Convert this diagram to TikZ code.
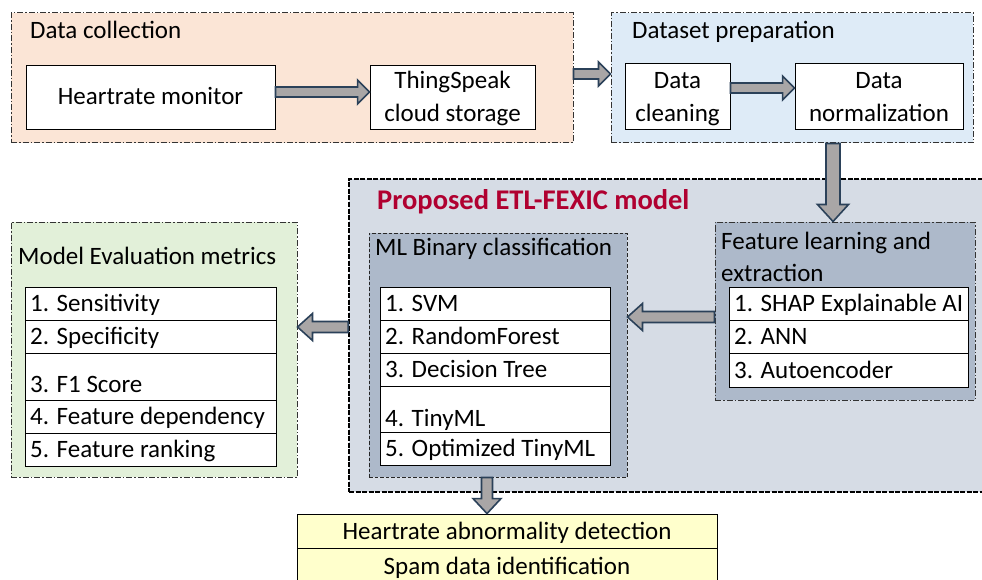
\documentclass[tikz,border=0pt]{standalone}
\usepackage{fontspec}
\setmainfont{Carlito}
\usetikzlibrary{calc,fit}
\definecolor{dcfill}{HTML}{FBE5D6}
\definecolor{dpfill}{HTML}{DEEBF7}
\definecolor{etlfill}{HTML}{D6DCE5}
\definecolor{innerfill}{HTML}{ADB9CA}
\definecolor{evalfill}{HTML}{E2F0D9}
\definecolor{outfill}{HTML}{FFFFCC}
\definecolor{arrowborder}{HTML}{2B4159}
\definecolor{arrowfill}{HTML}{A9A6A6}
\definecolor{titlered}{HTML}{B00030}
\def\bas{5}\def\bah{12}\def\bal{12}
\tikzset{
  arrowdims/.code args={#1/#2/#3}{\def\bas{#1}\def\bah{#2}\def\bal{#3}},
  blockarrow/.style={draw=arrowborder, fill=arrowfill, line width=1.6pt, line join=miter,
    to path={let \p1=(\tikztostart), \p2=(\tikztotarget),
      \n1={veclen(\x2-\x1,\y2-\y1)}, \n2={(\x2-\x1)/\n1}, \n3={(\y2-\y1)/\n1} in
      ({\x1-\bas*(\n3)*1pt},{\y1+\bas*(\n2)*1pt})
      -- ({\x2-\bal*(\n2)*1pt-\bas*(\n3)*1pt},{\y2-\bal*(\n3)*1pt+\bas*(\n2)*1pt})
      -- ({\x2-\bal*(\n2)*1pt-\bah*(\n3)*1pt},{\y2-\bal*(\n3)*1pt+\bah*(\n2)*1pt})
      -- (\p2)
      -- ({\x2-\bal*(\n2)*1pt+\bah*(\n3)*1pt},{\y2-\bal*(\n3)*1pt-\bah*(\n2)*1pt})
      -- ({\x2-\bal*(\n2)*1pt+\bas*(\n3)*1pt},{\y2-\bal*(\n3)*1pt-\bas*(\n2)*1pt})
      -- ({\x1+\bas*(\n3)*1pt},{\y1-\bas*(\n2)*1pt})
      -- cycle}},
  region/.style={draw=black!80, line width=1pt, inner sep=0pt,
    dash pattern=on 6pt off 2pt on 1.5pt off 2pt},
  etlregion/.style={draw=black, line width=1.6pt, inner sep=0pt, fill=etlfill,
    dash pattern=on 5pt off 1.5pt},
  mlregion/.style={draw=black!85, line width=1pt, inner sep=0pt, fill=innerfill,
    dash pattern=on 3.5pt off 2pt},
  whitebox/.style={draw=black, line width=0.9pt, fill=white, inner sep=0pt},
  yellowbox/.style={draw=black, line width=0.9pt, fill=outfill, inner sep=0pt},
  ltext/.style={anchor=west, inner sep=0pt, text height=16pt, text depth=0pt},
  ctext/.style={anchor=center, inner sep=0pt, text height=16pt, text depth=0pt},
}
\begin{document}
\begin{tikzpicture}[x=1pt,y=-1pt,font=\fontsize{25}{32}\selectfont]
\useasboundingbox (0,0) rectangle (982,580);
\clip (0,0) rectangle (982,580);
\fill[white] (0,0) rectangle (982,580);

% Data collection
\node[region, fill=dcfill, fit={(11,13)(573,143)}] (dc) {};
\node[ltext] (tdc) at (30,31) {Data collection};
\node[whitebox, fit={(26,65)(275,129)}] (hr) {};
\node[ctext] (thr) at (hr.center) {Heartrate monitor};
\node[whitebox, fit={(370,65)(535,129)}] (ts) {};
\node[ctext] (tts1) at (452.5,81) {ThingSpeak};
\node[ctext] (tts2) at (452.5,114) {cloud storage};

% Dataset preparation
\node[region, fill=dpfill, fit={(611,13)(973,143)}] (dp) {};
\node[ltext] (tdp) at (632,31) {Dataset preparation};
\node[whitebox, fit={(625,63)(730,129)}] (clean) {};
\node[ctext] (tcl1) at (677.5,81) {Data};
\node[ctext] (tcl2) at (677.5,114) {cleaning};
\node[whitebox, fit={(795,63)(963,129)}] (norm) {};
\node[ctext] (tno1) at (879,81) {Data};
\node[ctext] (tno2) at (879,114) {normalization};

% Proposed model
\node[etlregion, fit={(349,179)(1000,492)}] (etl) {};
\node[ltext, text height=18pt, text=titlered, font=\fontsize{28.5}{34}\selectfont\bfseries] (tetl) at (377,201) {Proposed ETL-FEXIC model};

\node[mlregion, fit={(369,233)(627,477)}] (ml) {};
\node[ltext] (tml) at (375,247) {ML Binary classification};
\node[whitebox, fit={(380,287)(610,320)}] (m1) {};
\node[whitebox, fit={(380,320)(610,353)}] (m2) {};
\node[whitebox, fit={(380,353)(610,386)}] (m3) {};
\node[whitebox, fit={(380,386)(610,432)}] (m4) {};
\node[whitebox, fit={(380,432)(610,465)}] (m5) {};
\node[ltext] (tm1) at (385,303.5) {1. SVM};
\node[ltext] (tm2) at (385,336.5) {2. RandomForest};
\node[ltext] (tm3) at (385,369.5) {3. Decision Tree};
\node[ltext] (tm4) at (385,418) {4. TinyML};
\node[ltext] (tm5) at (385,448.5) {5. Optimized TinyML};

\node[region, fill=innerfill, fit={(715,222)(975,400)}] (feat) {};
\node[ltext] (tf1) at (721,241) {Feature learning and};
\node[ltext] (tf2) at (721,273) {extraction};
\node[whitebox, fit={(729,287)(968,320)}] (f1) {};
\node[whitebox, fit={(729,320)(968,353)}] (f2) {};
\node[whitebox, fit={(729,353)(968,387)}] (f3) {};
\node[ltext] (tfa) at (734,303.5) {1. SHAP Explainable AI};
\node[ltext] (tfb) at (734,336.5) {2. ANN};
\node[ltext] (tfc) at (734,370) {3. Autoencoder};

% Evaluation
\node[region, fill=evalfill, fit={(11,222)(297,477)}] (eval) {};
\node[ltext] (tev) at (18,256) {Model Evaluation metrics};
\node[whitebox, fit={(25,287)(276,320)}] (e1) {};
\node[whitebox, fit={(25,320)(276,353)}] (e2) {};
\node[whitebox, fit={(25,353)(276,400)}] (e3) {};
\node[whitebox, fit={(25,400)(276,433)}] (e4) {};
\node[whitebox, fit={(25,433)(276,466)}] (e5) {};
\node[ltext] (te1) at (30,303.5) {1. Sensitivity};
\node[ltext] (te2) at (30,336.5) {2. Specificity};
\node[ltext] (te3) at (30,384) {3. F1 Score};
\node[ltext] (te4) at (30,416.5) {4. Feature dependency};
\node[ltext] (te5) at (30,449.5) {5. Feature ranking};

% Output
\node[yellowbox, fit={(297,514)(717,548)}] (out1) {};
\node[yellowbox, fit={(297,548)(717,595)}] (out2) {};
\node[ctext] (to1) at (507,531) {Heartrate abnormality detection};
\node[ctext] (to2) at (507,566) {Spam data identification};

% Arrows
\path[blockarrow] ([yshift=5pt]hr.east) to ([yshift=5pt]hr.east -| ts.west);
\path[blockarrow] ([yshift=4pt]dc.east) to ([yshift=4pt]dc.east -| dp.west);
\path[blockarrow] ([yshift=8pt]clean.east) to ([yshift=8pt]clean.east -| norm.west);
\path[blockarrow, arrowdims=7/15.5/17] ([xshift=41pt]dp.south) to ([xshift=41pt]dp.south |- feat.north);
\path[blockarrow, arrowdims=5.5/13.5/15] ([yshift=-6pt]feat.west) to ([yshift=-6pt]feat.west -| ml.east);
\path[blockarrow, arrowdims=5.5/13.5/15] ([yshift=8.5pt]etl.west) to ([yshift=8.5pt]etl.west -| eval.east);
\path[blockarrow, arrowdims=5.5/14/15] ([xshift=-11pt]ml.south) to ([xshift=-11pt]ml.south |- out1.north);
\end{tikzpicture}
\end{document}
